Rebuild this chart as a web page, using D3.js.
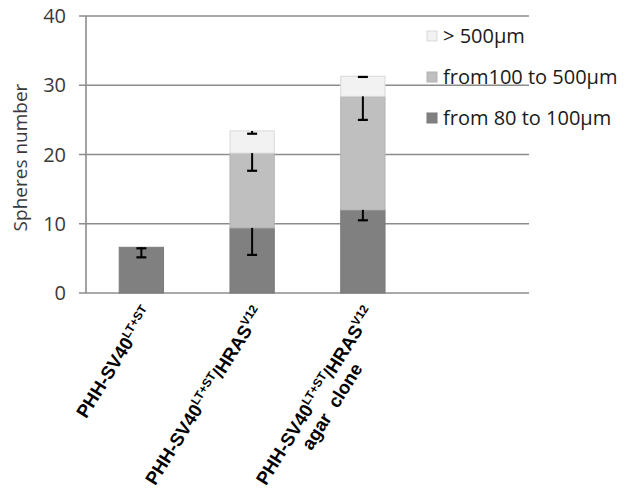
<!DOCTYPE html>
<html>
<head>
<meta charset="utf-8">
<script src="https://cdn.jsdelivr.net/npm/d3@7"></script>
<style>
  html, body { margin: 0; padding: 0; background: #fff; }
  svg { display: block; }
  text { white-space: pre; }
</style>
</head>
<body>
<svg id="chart" width="631" height="492"></svg>
<script>
// ---- data ----
const categories = [
  "PHH-SV40{LT+ST}",
  "PHH-SV40{LT+ST}/HRAS{V12}",
  "PHH-SV40{LT+ST}/HRAS{V12}\nagar  clone",
  ""
];
const seriesNames = ["from 80 to 100μm", "from100 to 500μm", "> 500μm"];
const small  = [6.6, 9.4, 12.0, 0];
const medium = [0, 10.8, 16.4, 0];
const large  = [0, 3.2, 2.9, 0];
const errSmall  = [1.45, 3.9, 1.5, 0];
const errMedium = [0, 2.55, 3.4, 0];
const errLarge  = [0, 0.4, 0.1, 0];
const yTicks = [0, 10, 20, 30, 40];
const seriesColors = ["#808080", "#bfbfbf", "#f2f2f2"];
const seriesStroke = ["#7a7a7a", "#b3b3b3", "#d9d9d9"];

// ---- build ----
const svg = d3.select("#chart");
const plot = { left: 86, right: 529, top: 16, bottom: 293 };

const x = d3.scaleBand().domain(d3.range(categories.length))
  .range([plot.left, plot.right]).paddingInner(0.6).paddingOuter(0.3);
const y = d3.scaleLinear().domain([0, 40]).range([plot.bottom, plot.top]);

const table = categories.map((c, i) => ({ i, s0: small[i], s1: medium[i], s2: large[i] }));
const errs = [errSmall, errMedium, errLarge];
const stacked = d3.stack().keys(["s0", "s1", "s2"])(table);

const gridColor = "#8c8c8c";

svg.append("g").selectAll("line").data(yTicks).join("line")
  .attr("x1", plot.left - 7).attr("x2", plot.right)
  .attr("y1", d => y(d)).attr("y2", d => y(d))
  .attr("stroke", gridColor).attr("stroke-width", 1.6);

svg.append("line").attr("x1", plot.left).attr("x2", plot.left)
  .attr("y1", y(40)).attr("y2", y(0)).attr("stroke", gridColor).attr("stroke-width", 1.6);

svg.append("g").selectAll("text").data(yTicks).join("text")
  .attr("x", plot.left - 20).attr("y", d => y(d))
  .attr("dy", "0.36em").attr("text-anchor", "end")
  .attr("font-family", "Open Sans, sans-serif").attr("font-size", 20)
  .attr("fill", "#3a3a3a").text(d => d);

svg.append("text")
  .attr("transform", `translate(27,${(y(0) + y(40)) / 2 + 3}) rotate(-90)`)
  .attr("text-anchor", "middle")
  .attr("font-family", "Open Sans, sans-serif").attr("font-size", 19)
  .attr("fill", "#3a3a3a").text("Spheres number");

const barG = svg.append("g");
stacked.forEach((layer, si) => {
  barG.append("g").selectAll("rect").data(layer.filter(d => d[1] - d[0] > 0)).join("rect")
    .attr("x", d => x(d.data.i))
    .attr("width", x.bandwidth())
    .attr("y", d => y(d[1]))
    .attr("height", d => y(d[0]) - y(d[1]))
    .attr("fill", seriesColors[si])
    .attr("stroke", seriesStroke[si]).attr("stroke-width", 1);
});

const errG = svg.append("g");
stacked.forEach((layer, si) => {
  layer.forEach(d => {
    const e = errs[si][d.data.i];
    if (!(d[1] - d[0] > 0) || !e) return;
    const cx = x(d.data.i) + x.bandwidth() / 2;
    const y1 = y(d[1]), y2 = y(d[1] - e);
    errG.append("line").attr("x1", cx).attr("x2", cx).attr("y1", y1).attr("y2", y2)
      .attr("stroke", "#000").attr("stroke-width", 2);
    errG.append("line").attr("x1", cx - 5).attr("x2", cx + 5).attr("y1", y2).attr("y2", y2)
      .attr("stroke", "#000").attr("stroke-width", 2.2);
    if (si === 0 && d.data.i === 0) {
      errG.append("line").attr("x1", cx - 5).attr("x2", cx + 5).attr("y1", y1 + 1).attr("y2", y1 + 1)
        .attr("stroke", "#000").attr("stroke-width", 2.2);
    }
  });
});

// x labels
const angle = -58;
const fs = 18.5, supFs = 12;
function fillRich(textSel, str) {
  const parts = str.split(/(\{[^}]*\})/).filter(p => p.length);
  parts.forEach(p => {
    if (p.startsWith("{")) {
      textSel.append("tspan").attr("font-size", supFs).attr("dy", -7).text(p.slice(1, -1));
      textSel.append("tspan").attr("font-size", fs).attr("dy", 7).text("\u200b");
    } else {
      textSel.append("tspan").attr("font-size", fs).text(p);
    }
  });
}
const labG = svg.append("g").attr("font-family", "Liberation Sans, Arial, sans-serif")
  .attr("font-weight", "bold").attr("fill", "#000");
categories.forEach((c, i) => {
  if (!c) return;
  const cx = x(i) + x.bandwidth() / 2;
  const g = labG.append("g").attr("transform", `translate(${cx + 12},${plot.bottom + 19}) rotate(${angle})`);
  const lines = c.split("\n");
  const t0 = g.append("text").attr("text-anchor", "end").attr("x", 0).attr("y", 0);
  fillRich(t0, lines[0]);
  const w0 = t0.node().getComputedTextLength();
  lines.slice(1).forEach((ln, k) => {
    const t = g.append("text").attr("text-anchor", "middle").attr("x", -w0 / 2).attr("y", 20 * (k + 1));
    fillRich(t, ln);
  });
});

// legend
const legOrder = [2, 1, 0];
const legY = [36, 77, 118];
const legG = svg.append("g");
legOrder.forEach((si, k) => {
  legG.append("rect").attr("x", 427).attr("y", legY[k] - 5).attr("width", 10).attr("height", 10)
    .attr("fill", seriesColors[si]).attr("stroke", seriesStroke[si]).attr("stroke-width", 1);
  legG.append("text").attr("x", 443).attr("y", legY[k]).attr("dy", "0.35em")
    .attr("font-family", "Open Sans, sans-serif").attr("font-size", 20)
    .attr("fill", "#1a1a1a").text(seriesNames[si]);
});
</script>
</body>
</html>
